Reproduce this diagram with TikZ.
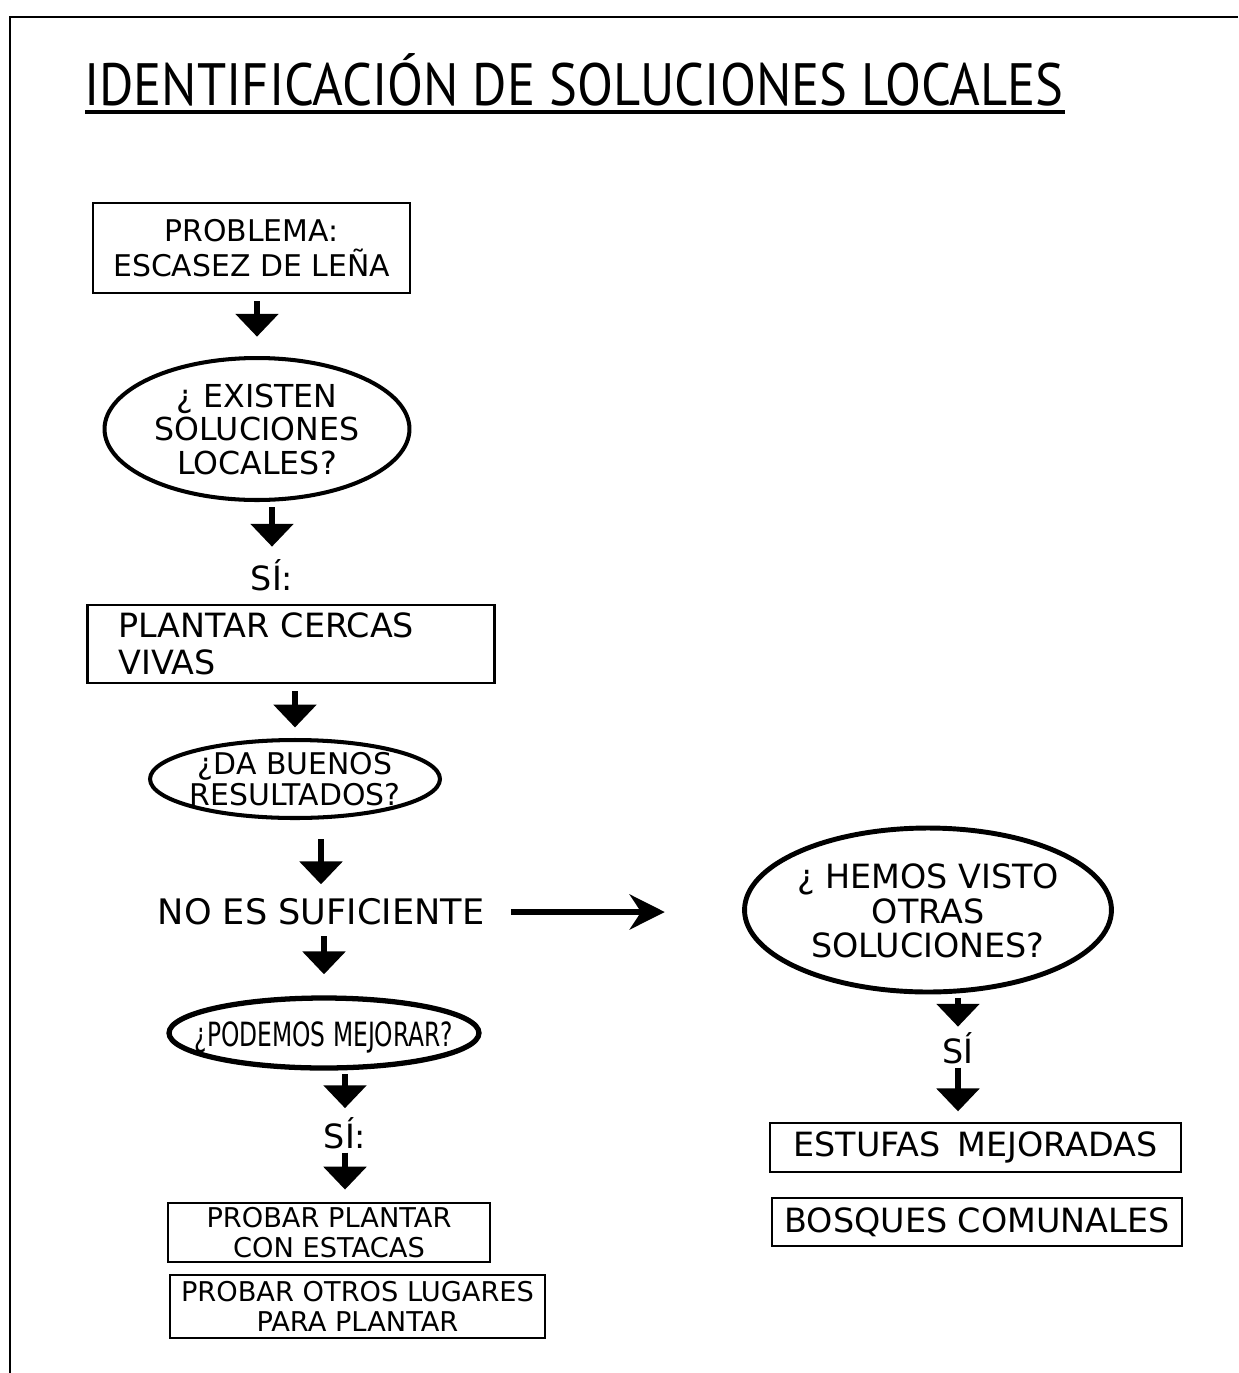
\documentclass[tikz,border=0pt]{standalone}
\usepackage{fontspec}
\setmainfont{DejaVu Sans}
\newfontfamily\titlefont[FakeStretch=0.88]{PT Sans}
\newfontfamily\estrecha[FakeStretch=0.7]{DejaVu Sans}
\usetikzlibrary{arrows.meta,shapes.geometric}
% texto centrado que no agranda la elipse
\newcommand{\dentro}[1]{\raisebox{-0.4em}[0pt][0pt]{\makebox[0pt]{\begin{tabular}{@{}c@{}}#1\end{tabular}}}}

\begin{document}
\begin{tikzpicture}[x=0.02cm,y=-0.02cm,
  caja/.style={draw,line width=1.3pt,align=center,inner sep=0pt,font=\fontsize{17}{20}\selectfont},
  nube/.style={draw,ellipse,line width=2.3pt,inner sep=0pt,font=\fontsize{18}{19}\selectfont},
  rotulo/.style={inner sep=0pt,font=\fontsize{19}{21}\selectfont},
  flecha/.style={line width=3pt,-{Triangle[width=24pt,length=13pt]}}]
\useasboundingbox (0,0) rectangle (1238,1373);
% marco y titulo
\draw[line width=1.6pt] (1238,17) -- (10,17) -- (10,1373);
\node[inner sep=0pt,font=\titlefont\fontsize{34}{40}\selectfont] (titulo) at (574,80) {IDENTIFICACIÓN DE SOLUCIONES LOCALES};
\draw[line width=1.8pt] (85,112) -- (1065,112);
% columna izquierda
\node[caja,minimum width=6.34cm,minimum height=1.8cm] (problema) at (251.5,248) {PROBLEMA:\\ESCASEZ DE LEÑA};
\node[nube,minimum width=6.1cm,minimum height=2.84cm] (existen) at (257,429) {\dentro{¿ EXISTEN\\SOLUCIONES\\LOCALES?}};
\node[rotulo] (si1) at (272,575) {SÍ:};
\node[caja,font=\fontsize{19}{21}\selectfont,text width=6.9cm,align=left,inner xsep=0.62cm,minimum height=1.56cm] (cercas) at (291,644) {PLANTAR CERCAS\\VIVAS};
\node[nube,minimum width=5.8cm,minimum height=1.56cm,font=\fontsize{17}{17}\selectfont] (buenos) at (295,779) {\dentro{¿DA BUENOS\\RESULTADOS?}};
\node[rotulo,font=\fontsize{20}{22}\selectfont] (nosuf) at (321,912) {NO ES SUFICIENTE};
\node[nube,line width=3pt,minimum width=6.2cm,minimum height=1.4cm,font=\estrecha\fontsize{19}{19}\selectfont] (mejorar) at (324,1033) {\dentro{¿PODEMOS MEJORAR?}};
\node[rotulo] (si2) at (345,1133) {SÍ:};
\node[caja,font=\fontsize{15.5}{17}\selectfont,minimum width=6.44cm,minimum height=1.18cm] (estacas) at (329,1232.5) {PROBAR PLANTAR\\CON ESTACAS};
\node[caja,font=\fontsize{15.5}{17}\selectfont,minimum width=7.5cm,minimum height=1.26cm] (lugares) at (357.5,1306.5) {PROBAR OTROS LUGARES\\PARA PLANTAR};
% columna derecha
\node[nube,line width=2.8pt,minimum width=7.34cm,minimum height=3.28cm,font=\fontsize{19}{19}\selectfont] (otras) at (928,910) {\dentro{¿ HEMOS VISTO\\OTRAS\\SOLUCIONES?}};
\node[rotulo] (si3) at (958,1048) {SÍ};
\node[caja,minimum width=8.22cm,minimum height=0.98cm,font=\fontsize{19}{21}\selectfont] (estufas) at (975.5,1147.5) {ESTUFAS\enspace MEJORADAS};
\node[caja,minimum width=8.2cm,minimum height=0.96cm,font=\fontsize{19}{21}\selectfont] (bosques) at (977,1222) {BOSQUES COMUNALES};
% flechas
\draw[flecha,shorten <=4pt,shorten >=11pt] (problema.south -| existen.north) -- (existen.north);
\draw[flecha,shorten <=3pt,shorten >=7pt] (existen.south -| si1.north) -- (si1.north);
\draw[flecha,shorten <=4pt,shorten >=6pt] (cercas.south -| buenos.north) -- (buenos.north);
\draw[flecha,shorten <=11pt,shorten >=8pt] (buenos.south -| nosuf.north) -- (nosuf.north);
\draw[flecha,shorten <=6pt,shorten >=12pt] (nosuf.south -| mejorar.north) -- (mejorar.north);
\draw[line width=3pt,-{Stealth[width=20pt,length=20pt]},shorten <=15pt,shorten >=44pt] (nosuf.east) -- (nosuf.east -| otras.west);
\draw[flecha,shorten <=2pt,shorten >=5pt] (mejorar.south -| si2.north) -- (si2.north);
\draw[flecha,shorten <=2pt,shorten >=7pt] (si2.south) -- (si2.south |- estacas.north);
\draw[flecha,shorten <=2pt,shorten >=3pt] (otras.south -| si3.north) -- (si3.north);
\draw[flecha,shorten <=2pt,shorten >=6pt] (si3.south) -- (si3.south |- estufas.north);
\end{tikzpicture}
\end{document}
